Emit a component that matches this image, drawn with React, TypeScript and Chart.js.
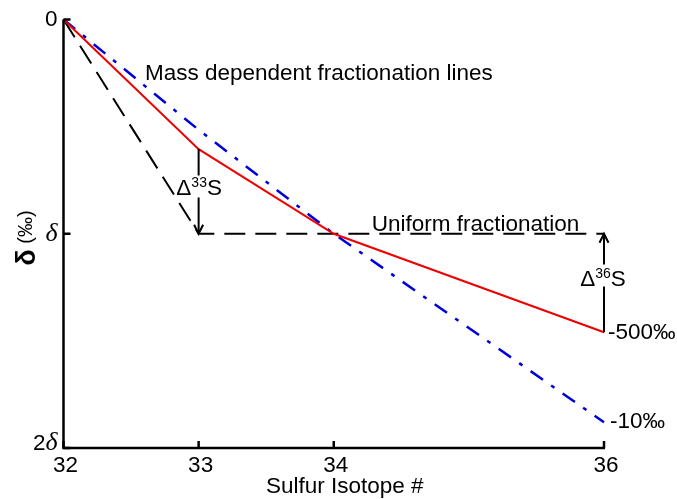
import React, { useEffect, useRef } from 'react';
import { Chart, registerables } from 'chart.js';

Chart.register(...registerables);

// ---- data ----
const isotopes = [32, 33, 34, 36];
const uniformDelta = [0, 1, 1, 1];
const massDependentDelta = [0, 0.515, 1, 1.88];
const massIndependentDelta = [0, 0.605, 1, 1.46];

const xTicks = [32, 33, 34, 36];
const yTicks = [0, 1, 2];
const yTickLabels = ['0', 'δ', '2δ'];

const xTitle = 'Sulfur Isotope #';
const mdfLabel = 'Mass dependent fractionation lines';
const uniformLabel = 'Uniform fractionation';
const redEndLabel = '-500‰';
const blueEndLabel = '-10‰';

const SANS = "'Liberation Sans', Arial, Helvetica, sans-serif";
const SERIF = "'Liberation Serif', 'Times New Roman', serif";
const FS = 22.5;

const toPoints = (vals: number[]) => isotopes.map((x, i) => ({ x, y: vals[i] }));

function drawDeltaS(ctx: CanvasRenderingContext2D, cx: number, baseline: number, sup: string) {
  ctx.font = `${FS}px ${SANS}`;
  const wD = ctx.measureText('Δ').width;
  const wS = ctx.measureText('S').width;
  ctx.font = `14px ${SANS}`;
  const wSup = ctx.measureText(sup).width;
  const total = wD + wSup + wS;
  let x = cx - total / 2;
  ctx.textAlign = 'left';
  ctx.textBaseline = 'alphabetic';
  ctx.font = `${FS}px ${SANS}`;
  ctx.fillText('Δ', x, baseline);
  x += wD;
  ctx.font = `14px ${SANS}`;
  ctx.fillText(sup, x, baseline - 8);
  x += wSup;
  ctx.font = `${FS}px ${SANS}`;
  ctx.fillText('S', x, baseline);
}

function drawArrow(ctx: CanvasRenderingContext2D, x: number, yFrom: number, yTo: number, gapTop: number, gapBottom: number) {
  ctx.lineWidth = 2;
  ctx.setLineDash([]);
  const top = Math.min(yFrom, yTo);
  const bottom = Math.max(yFrom, yTo);
  ctx.beginPath();
  ctx.moveTo(x, top);
  ctx.lineTo(x, gapTop);
  ctx.moveTo(x, gapBottom);
  ctx.lineTo(x, bottom);
  ctx.stroke();
  const dir = Math.sign(yTo - yFrom);
  ctx.beginPath();
  ctx.moveTo(x - 4.5, yTo - dir * 9);
  ctx.lineTo(x, yTo);
  ctx.lineTo(x + 4.5, yTo - dir * 9);
  ctx.stroke();
}

const overlayPlugin = {
  id: 'overlay',
  afterDatasetsDraw(chart: any) {
    const ctx: CanvasRenderingContext2D = chart.ctx;
    const xs = chart.scales.x;
    const ys = chart.scales.y;
    const X = (v: number) => xs.getPixelForValue(v);
    const Y = (v: number) => ys.getPixelForValue(v);
    const area = chart.chartArea;

    ctx.save();
    ctx.strokeStyle = '#000';
    ctx.fillStyle = '#000';
    ctx.setLineDash([]);

    // axes
    ctx.lineWidth = 2.5;
    ctx.lineJoin = 'miter';
    ctx.lineCap = 'butt';
    ctx.beginPath();
    ctx.moveTo(area.left, area.top);
    ctx.lineTo(area.left, area.bottom);
    ctx.lineTo(area.right + 1, area.bottom);
    ctx.stroke();

    // ticks (inward)
    ctx.beginPath();
    xTicks.forEach((t) => {
      const px = X(t);
      ctx.moveTo(px, area.bottom);
      ctx.lineTo(px, area.bottom - 7);
    });
    yTicks.forEach((t) => {
      const py = Y(t);
      ctx.moveTo(area.left, py);
      ctx.lineTo(area.left + 7, py);
    });
    ctx.stroke();

    // x tick labels
    ctx.font = `${FS}px ${SANS}`;
    ctx.textAlign = 'center';
    ctx.textBaseline = 'alphabetic';
    xTicks.forEach((t) => {
      ctx.fillText(String(t), X(t) + 2, area.bottom + 24);
    });

    // y tick labels
    const right = area.left - 6;
    yTicks.forEach((t, i) => {
      const label = yTickLabels[i];
      let py = Y(t);
      if (i === yTicks.length - 1) py -= 5;
      ctx.textBaseline = 'middle';
      ctx.textAlign = 'right';
      if (label.includes('δ')) {
        ctx.font = `italic 26px ${SERIF}`;
        const wd = ctx.measureText('δ').width;
        ctx.fillText('δ', right, py);
        const rest = label.replace('δ', '');
        if (rest) {
          ctx.font = `${FS}px ${SANS}`;
          ctx.fillText(rest, right - wd, py + 1);
        }
      } else {
        ctx.font = `${FS}px ${SANS}`;
        ctx.fillText(label, right, py);
      }
    });

    // x title
    ctx.font = `${FS}px ${SANS}`;
    ctx.textAlign = 'center';
    ctx.textBaseline = 'alphabetic';
    ctx.fillText(xTitle, (area.left + area.right) / 2 + 11, area.bottom + 45);

    // y title (rotated)
    ctx.save();
    ctx.translate(area.left - 28.5, Y(1) + 32);
    ctx.rotate(-Math.PI / 2);
    ctx.textAlign = 'left';
    ctx.textBaseline = 'alphabetic';
    ctx.font = `bold 27px ${SANS}`;
    ctx.fillText('δ', 0, 0);
    ctx.font = `20px ${SANS}`;
    ctx.fillText('(‰)', 22, -3);
    ctx.restore();

    // annotations
    ctx.font = `${FS}px ${SANS}`;
    ctx.textAlign = 'left';
    ctx.textBaseline = 'alphabetic';
    ctx.fillText(mdfLabel, X(32.603), Y(0.283));
    ctx.fillText(uniformLabel, X(34.281), Y(1) - 3);

    // Δ33S arrow
    const x33 = X(33);
    const r33 = Y(massIndependentDelta[1]);
    const u33 = Y(uniformDelta[1]);
    const b33 = (r33 + u33) / 2 + 4;
    drawArrow(ctx, x33, r33, u33, b33 - 20, b33 + 2);
    drawDeltaS(ctx, x33 + 0.5, b33, '33');

    // Δ36S arrow
    const x36 = X(36);
    const r36 = Y(massIndependentDelta[3]);
    const u36 = Y(uniformDelta[3]);
    const b36 = (r36 + u36) / 2 + 2.5;
    drawArrow(ctx, x36, r36, u36, b36 - 21, b36 + 1);
    drawDeltaS(ctx, x36 - 1, b36, '36');

    // end labels
    ctx.font = `${FS}px ${SANS}`;
    ctx.textAlign = 'left';
    ctx.textBaseline = 'middle';
    ctx.fillText(redEndLabel, X(36) + 4, Y(massIndependentDelta[3]));
    ctx.fillText(blueEndLabel, X(36) + 6, Y(massDependentDelta[3]));

    ctx.restore();
  },
};

export default function App() {
  const canvasRef = useRef<HTMLCanvasElement | null>(null);

  useEffect(() => {
    const canvas = canvasRef.current;
    if (!canvas) return;
    const chart = new Chart(canvas, {
      type: 'line',
      data: {
        datasets: [
          {
            label: 'Mass independent',
            data: toPoints(massIndependentDelta),
            borderColor: '#ee0000',
            borderWidth: 2,
            pointRadius: 0,
            fill: false,
            tension: 0,
            clip: false,
            borderJoinStyle: 'miter',
          },
          {
            label: 'Mass dependent',
            data: toPoints(massDependentDelta),
            borderColor: '#0000dd',
            borderWidth: 2.5,
            borderDash: [15, 10, 4, 10],
            borderCapStyle: 'butt',
            pointRadius: 0,
            fill: false,
            tension: 0,
            clip: false,
          },
          {
            label: 'Uniform',
            data: toPoints(uniformDelta),
            borderColor: '#000000',
            borderWidth: 2,
            borderDash: [21, 10],
            borderCapStyle: 'butt',
            pointRadius: 0,
            fill: false,
            tension: 0,
            clip: false,
          },
        ],
      } as any,
      options: {
        responsive: false,
        animation: false,
        devicePixelRatio: 1,
        events: [],
        layout: { padding: { left: 63.5, right: 73, top: 19.5, bottom: 51 } },
        scales: {
          x: { type: 'linear', min: 32, max: 36, display: false },
          y: { type: 'linear', min: 0, max: 2, reverse: true, display: false },
        },
        plugins: {
          legend: { display: false },
          tooltip: { enabled: false },
        },
      } as any,
      plugins: [overlayPlugin],
    });
    return () => chart.destroy();
  }, []);

  return (
    <canvas
      ref={canvasRef}
      width={677}
      height={499}
      style={{ position: 'absolute', left: 0, top: 0, display: 'block' }}
    />
  );
}
